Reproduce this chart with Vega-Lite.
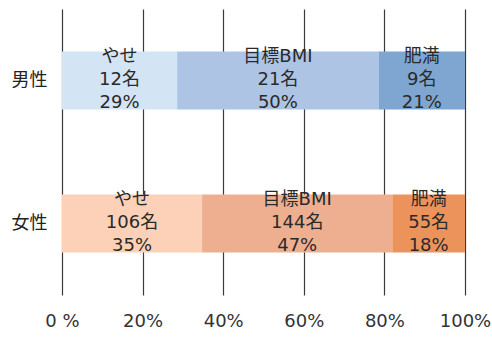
{
  "$schema": "https://vega.github.io/schema/vega-lite/v6.json",
  "width": 403,
  "height": 286,
  "autosize": {"type": "none"},
  "padding": {"left": 62, "top": 9, "right": 27, "bottom": 43},
  "background": "white",
  "config": {
    "view": {"stroke": null},
    "font": "DejaVu Sans, Noto Sans CJK JP"
  },
  "data": {
    "values": [
      {"sex": "男性", "cat": "やせ", "grp": "男性・やせ", "order": 1, "n": 12, "pct": 29},
      {"sex": "男性", "cat": "目標BMI", "grp": "男性・目標BMI", "order": 2, "n": 21, "pct": 50},
      {"sex": "男性", "cat": "肥満", "grp": "男性・肥満", "order": 3, "n": 9, "pct": 21},
      {"sex": "女性", "cat": "やせ", "grp": "女性・やせ", "order": 1, "n": 106, "pct": 35},
      {"sex": "女性", "cat": "目標BMI", "grp": "女性・目標BMI", "order": 2, "n": 144, "pct": 47},
      {"sex": "女性", "cat": "肥満", "grp": "女性・肥満", "order": 3, "n": 55, "pct": 18}
    ]
  },
  "transform": [
    {"calculate": "datum.cat + '\\n' + datum.n + '名' + '\\n' + datum.pct + '%'", "as": "label"}
  ],
  "encoding": {
    "y": {
      "field": "sex",
      "type": "nominal",
      "sort": ["男性", "女性"],
      "scale": {"paddingInner": 0.594, "paddingOuter": 0.297},
      "axis": {
        "title": null,
        "domain": false,
        "ticks": false,
        "labelAngle": 0,
        "labelFont": "Noto Sans CJK JP",
        "labelFontSize": 18,
        "labelPadding": 15,
        "labelColor": "#222222"
      }
    },
    "order": {"field": "order"}
  },
  "layer": [
    {
      "mark": {"type": "bar"},
      "encoding": {
        "x": {
          "field": "n",
          "type": "quantitative",
          "stack": "normalize",
          "scale": {"domain": [0, 1]},
          "axis": {
            "title": null,
            "domain": false,
            "ticks": false,
            "grid": true,
            "gridColor": "#3a3a3a",
            "gridWidth": 1.2,
            "values": [0, 0.2, 0.4, 0.6, 0.8, 1],
            "labelExpr": "datum.value == 0 ? '0 %' : format(datum.value * 100, 'd') + '%'",
            "labelFlush": false,
            "labelFontSize": 18,
            "labelPadding": 17,
            "labelColor": "#333333"
          }
        },
        "color": {
          "field": "grp",
          "type": "nominal",
          "scale": {
            "domain": ["男性・やせ", "男性・目標BMI", "男性・肥満", "女性・やせ", "女性・目標BMI", "女性・肥満"],
            "range": ["#d3e4f5", "#adc4e5", "#7ea6d0", "#fcd1b7", "#eeaf91", "#ec935c"]
          },
          "legend": null
        }
      }
    },
    {
      "mark": {
        "type": "text",
        "lineBreak": "\n",
        "lineHeight": 23,
        "fontSize": 18,
        "baseline": "middle",
        "align": "center",
        "dy": -24,
        "color": "#2a2a2a"
      },
      "encoding": {
        "x": {"field": "n", "type": "quantitative", "stack": "normalize", "bandPosition": 0.5},
        "detail": {"field": "grp"},
        "text": {"field": "label"}
      }
    }
  ]
}
